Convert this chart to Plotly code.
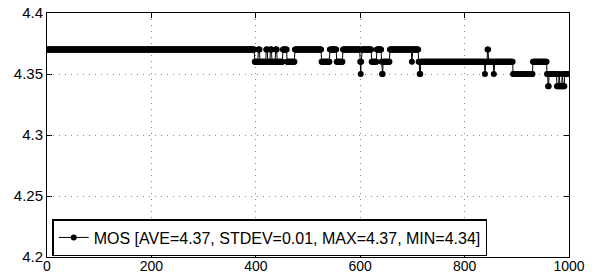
import plotly.graph_objects as go

# Run-length segments: sample index where a level starts, and its value
seg_start = [1, 398, 405, 408, 420, 423, 428, 431, 438, 441, 452, 460, 475, 526, 542, 555,
             567, 600, 601, 602, 603, 622, 632, 641, 642, 643, 644, 657, 699, 700, 712, 714,
             716, 839, 840, 844, 846, 856, 857, 893, 931, 958, 960, 962, 977, 981, 982, 987,
             988, 992]
seg_value = [4.37, 4.36, 4.37, 4.36, 4.37, 4.36, 4.37, 4.36, 4.37, 4.36, 4.37, 4.36, 4.37, 4.36, 4.37, 4.36,
             4.37, 4.36, 4.35, 4.36, 4.37, 4.36, 4.37, 4.36, 4.35, 4.35, 4.36, 4.37, 4.36, 4.37, 4.36, 4.35,
             4.36, 4.35, 4.36, 4.37, 4.36, 4.35, 4.36, 4.35, 4.36, 4.35, 4.34, 4.35, 4.34, 4.35, 4.34, 4.35,
             4.34, 4.35]
n_samples = 1000

x_ticks = [0, 200, 400, 600, 800, 1000]
y_ticks = [4.2, 4.25, 4.3, 4.35, 4.4]
y_tick_text = ["4.2", "4.25", "4.3", "4.35", "4.4"]
legend_label = "MOS [AVE=4.37, STDEV=0.01, MAX=4.37, MIN=4.34]"

xs, ys = [], []
for i, s in enumerate(seg_start):
    e = seg_start[i + 1] if i + 1 < len(seg_start) else n_samples + 1
    for k in range(s, e):
        xs.append(k)
        ys.append(seg_value[i])

fig = go.Figure()
fig.add_trace(go.Scatter(
    x=xs, y=ys, mode="lines+markers", name=legend_label,
    line=dict(color="black", width=1),
    marker=dict(color="black", size=6, symbol="circle"),
))

axis_common = dict(
    showline=True, linecolor="black", linewidth=1, mirror="ticks",
    ticks="inside", ticklen=5, tickcolor="black",
    showgrid=True, gridcolor="#888888", griddash="1px,5px", gridwidth=1,
    zeroline=False, automargin=False,
    tickfont=dict(family="Liberation Sans, Arial, sans-serif", size=15, color="black"),
)

fig.update_xaxes(range=[0, 1000], tickvals=x_ticks, **axis_common)
fig.update_xaxes(tickfont=dict(size=14), ticklabelstandoff=-4)
fig.update_yaxes(range=[4.2, 4.4], tickvals=y_ticks, ticktext=y_tick_text, **axis_common)

fig.update_layout(
    width=598, height=274,
    margin=dict(l=47, r=29, t=13, b=17, autoexpand=False),
    paper_bgcolor="white", plot_bgcolor="white",
    showlegend=True,
    legend=dict(
        x=0.01, y=0.004, xanchor="left", yanchor="bottom",
        bgcolor="white", bordercolor="black", borderwidth=1.5,
        font=dict(family="Liberation Sans, Arial, sans-serif", size=16, color="black"),
        itemwidth=30, tracegroupgap=0,
    ),
)

fig.write_html(
    "out.html",
    config={"displayModeBar": False},
    post_script="document.body.style.margin='0';document.body.style.padding='0';",
)
